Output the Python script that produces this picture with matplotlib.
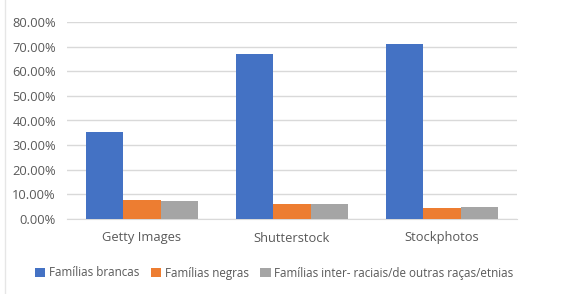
import matplotlib.pyplot as plt
import numpy as np
from matplotlib.ticker import FuncFormatter

# Dados
bancos = ["Getty Images", "Shutterstock", "Stockphotos"]
brancas = [35.5, 67.2, 70.9]
negras = [7.7, 6.1, 4.5]
outras = [7.2, 6.1, 4.8]
series = ["Famílias brancas", "Famílias negras",
          "Famílias inter- raciais/de outras raças/etnias"]
cores = ["#4472C4", "#ED7D31", "#A5A5A5"]

plt.rcParams["font.family"] = ["Open Sans", "DejaVu Sans"]
cinza = "#595959"

fig = plt.figure(figsize=(5.82, 2.94), dpi=100)
ax = fig.add_axes([67 / 582, 1 - 219 / 294, 450 / 582, 197 / 294])

x = np.arange(len(bancos))
w = 0.25
for i, (vals, nome, cor) in enumerate(zip([brancas, negras, outras], series, cores)):
    ax.bar(x + (i - 1) * w, vals, w, color=cor, label=nome, zorder=3)

ax.set_xlim(-0.5, 2.5)
ax.set_ylim(0, 80)
ax.set_yticks(np.arange(0, 81, 10))
ax.yaxis.set_major_formatter(FuncFormatter(lambda v, p: f"{v:.2f}%"))
ax.set_xticks(x)
ax.set_xticklabels(bancos)
ax.grid(axis="y", color="#D9D9D9", linewidth=1, zorder=0)
for s in ["top", "right", "left"]:
    ax.spines[s].set_visible(False)
ax.spines["bottom"].set_color("#D9D9D9")
ax.tick_params(axis="both", length=0, colors=cinza, labelsize=9.3)
ax.tick_params(axis="y", pad=8)
ax.tick_params(axis="x", pad=9)

leg = fig.legend(loc="center", bbox_to_anchor=(274 / 582, 1 - 273 / 294), ncol=3,
                 frameon=False, fontsize=8.4, handlelength=0.9, handleheight=0.9,
                 handletextpad=0.3, columnspacing=1.0)
for t in leg.get_texts():
    t.set_color(cinza)

# borda esquerda do gráfico
fig.add_artist(plt.Line2D([5 / 582, 5 / 582], [0, 1], color="#E6E6E6", linewidth=1))

fig.savefig("out.png", dpi=100)
